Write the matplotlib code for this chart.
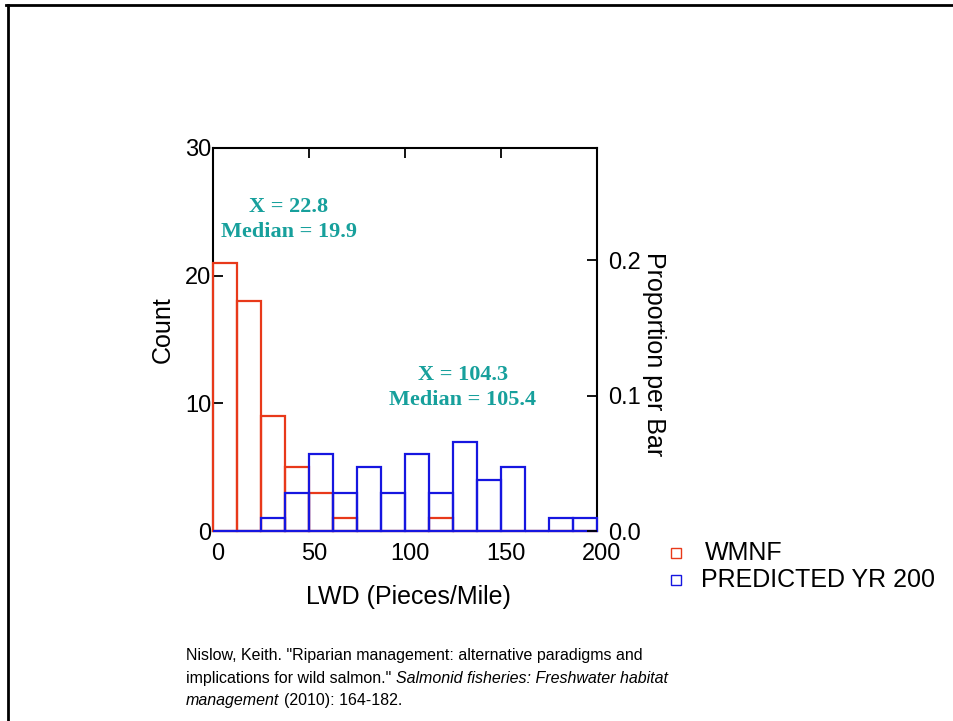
import matplotlib.pyplot as plt
from matplotlib.lines import Line2D
from matplotlib.ticker import FormatStrFormatter
from matplotlib.transforms import ScaledTranslation

# histogram bins (LWD pieces per mile) and counts per bin
bin_left = [0, 12.5, 25, 37.5, 50, 62.5, 75, 87.5, 100, 112.5, 125, 137.5, 150, 162.5, 175, 187.5]
bin_width = 12.5
wmnf_counts = [21, 18, 9, 5, 3, 1, 0, 0, 0, 1, 0, 0, 0, 0, 0, 0]
predicted_counts = [0, 0, 1, 3, 6, 3, 5, 3, 6, 3, 7, 4, 5, 0, 1, 1]
series_labels = ["WMNF", "PREDICTED YR 200"]

x_ticks = [0, 50, 100, 150, 200]
count_ticks = [0, 10, 20, 30]
prop_ticks = [0.0, 0.1, 0.2]

stats_wmnf = ["X = 22.8", "Median = 19.9"]
stats_pred = ["X = 104.3", "Median = 105.4"]

red = "#e8391a"
blue = "#1616e0"
teal = "#17a09c"

plt.rcParams["font.family"] = ["Liberation Sans", "DejaVu Sans"]

W, H = 954, 721
fig = plt.figure(figsize=(W / 100, H / 100), dpi=100)


def fx(px):
    return px / W


def fy(py):
    return 1 - py / H


ax = fig.add_axes([fx(213), fy(531), fx(597) - fx(213), fy(148) - fy(531)])

ax.bar(bin_left, wmnf_counts, width=bin_width, align="edge", fill=False,
       edgecolor=red, linewidth=1.6, zorder=3, clip_on=False)
ax.bar(bin_left, predicted_counts, width=bin_width, align="edge", fill=False,
       edgecolor=blue, linewidth=1.6, zorder=3, clip_on=False)

ax.set_xlim(0, 200)
ax.set_ylim(0, 30)
ax.set_xticks(x_ticks)
ax.set_yticks(count_ticks)
ax.tick_params(direction="in", top=True, length=7, width=1.3, labelsize=17)
ax.tick_params(axis="y", pad=1)
ax.tick_params(axis="x", pad=8.5)
for s in ax.spines.values():
    s.set_linewidth(1.5)

# x tick labels sit a little right of their ticks in the original
shift = ScaledTranslation(5 / 100, 0, fig.dpi_scale_trans)
for lab in ax.get_xticklabels():
    lab.set_transform(lab.get_transform() + shift)

total = sum(wmnf_counts) + sum(predicted_counts)
ax2 = ax.twinx()
ax2.set_ylim(0, 30 / total)
ax2.set_yticks(prop_ticks)
ax2.yaxis.set_major_formatter(FormatStrFormatter("%.1f"))
ax2.tick_params(direction="in", length=7, width=1.3, labelsize=17, pad=8)
for s in ax2.spines.values():
    s.set_visible(False)

# axis titles
fig.text(fx(163), fy(330), "Count", rotation=90, ha="center", va="center", fontsize=18)
fig.text(fx(408), fy(597), "LWD (Pieces/Mile)", ha="center", va="center", fontsize=18)
fig.text(fx(654), fy(354), "Proportion per Bar", rotation=-90, ha="center", va="center", fontsize=18)

# mean / median notes
serif = ["Liberation Serif", "DejaVu Serif"]
ax.text(39.6, 25.4, stats_wmnf[0], ha="center", va="center", color=teal,
        fontsize=16, fontweight="bold", family=serif)
ax.text(39.6, 23.4, stats_wmnf[1], ha="center", va="center", color=teal,
        fontsize=16, fontweight="bold", family=serif)
ax.text(130.2, 12.2, stats_pred[0], ha="center", va="center", color=teal,
        fontsize=16, fontweight="bold", family=serif)
ax.text(130.2, 10.25, stats_pred[1], ha="center", va="center", color=teal,
        fontsize=16, fontweight="bold", family=serif)

# legend
for py, col, lab, tx in [(553, red, series_labels[0], 705), (580, blue, series_labels[1], 701)]:
    fig.add_artist(Line2D([fx(676)], [fy(py)], marker="s", markersize=7.5, mfc="none",
                          mec=col, mew=1.0, linestyle="none", transform=fig.transFigure))
    fig.text(fx(tx), fy(py), lab, ha="left", va="center", fontsize=18)

# citation
cite_size = 11.5
t1 = fig.text(fx(186), fy(660), 'Nislow, Keith. "Riparian management: alternative paradigms and',
              fontsize=cite_size, va="baseline")
t2 = fig.text(fx(186), fy(683), 'implications for wild salmon."', fontsize=cite_size, va="baseline")
ax.annotate("Salmonid fisheries: Freshwater habitat", xy=(1, 0), xycoords=t2,
            xytext=(3.2, 0), textcoords="offset points", ha="left", va="bottom",
            fontsize=cite_size, style="italic", annotation_clip=False)
t3 = fig.text(fx(186), fy(705), "management", fontsize=cite_size, va="baseline", style="italic")
ax.annotate("(2010): 164-182.", xy=(1, 0), xycoords=t3,
            xytext=(3.2, 0), textcoords="offset points", ha="left", va="bottom",
            fontsize=cite_size, annotation_clip=False)

# slide frame (top and left edges)
fig.add_artist(Line2D([fx(6), 1], [fy(5), fy(5)], color="black", lw=2, transform=fig.transFigure))
fig.add_artist(Line2D([fx(8), fx(8)], [0, fy(5)], color="black", lw=2, transform=fig.transFigure))

fig.savefig("out.png", dpi=100)
